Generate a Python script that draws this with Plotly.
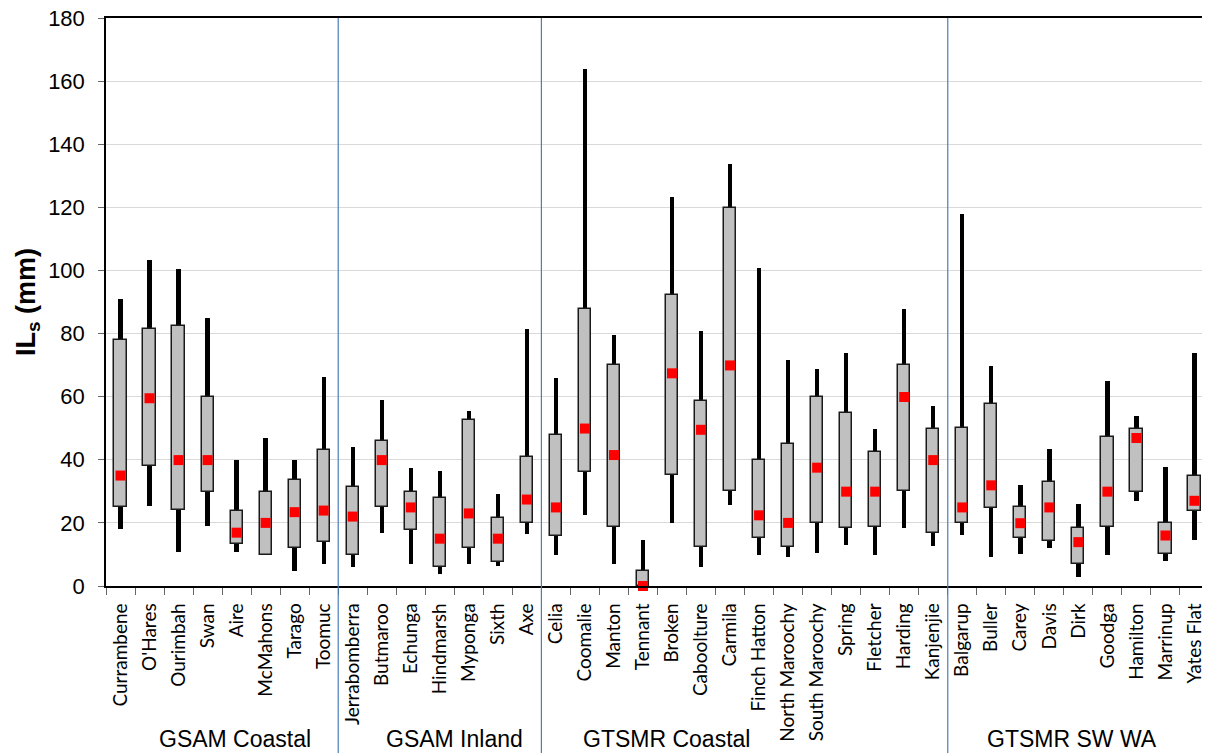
import plotly.graph_objects as go

# ---- data ----
sites = ["Currambene", "O'Hares", "Ourimbah", "Swan", "Aire", "McMahons", "Tarago", "Toomuc",
         "Jerrabomberra", "Butmaroo", "Echunga", "Hindmarsh", "Myponga", "Sixth", "Axe",
         "Celia", "Coomalie", "Manton", "Tennant", "Broken", "Caboolture", "Carmila",
         "Finch Hatton", "North Maroochy", "South Maroochy", "Spring", "Fletcher", "Harding", "Kanjenjie",
         "Balgarup", "Buller", "Carey", "Davis", "Dirk", "Goodga", "Hamilton", "Marrinup", "Yates Flat"]

groups = ["GSAM Coastal", "GSAM Inland", "GTSMR Coastal", "GTSMR SW WA"]
group_sizes = [8, 7, 14, 9]

whisker_max = [90.9, 103.4, 100.5, 84.9, 39.9, 46.8, 39.8, 66.3,
               43.9, 58.9, 37.4, 36.4, 55.5, 29.0, 81.5,
               65.8, 163.9, 79.7, 14.7, 123.4, 80.8, 133.8,
               100.8, 71.7, 68.8, 73.9, 49.7, 87.8, 57.2,
               117.8, 69.6, 32.1, 43.4, 25.9, 65.0, 53.8, 37.8, 73.9]
box_high = [77.9, 81.5, 82.4, 60.0, 23.9, 29.9, 33.7, 43.0,
            31.4, 45.9, 29.9, 27.9, 52.5, 21.6, 41.0,
            47.7, 87.8, 69.9, 4.8, 92.2, 58.6, 119.8,
            39.9, 44.9, 59.9, 54.8, 42.4, 69.9, 49.9,
            50.1, 57.7, 24.9, 33.1, 18.4, 47.3, 49.9, 19.9, 34.8]
median = [35.0, 59.5, 39.9, 39.9, 16.9, 20.0, 23.4, 23.9,
          22.0, 39.9, 24.9, 15.0, 23.0, 15.0, 27.4,
          24.9, 49.9, 41.5, 0.0, 67.4, 49.5, 69.9,
          22.4, 20.0, 37.5, 29.9, 29.9, 59.9, 39.9,
          24.9, 31.9, 19.9, 24.9, 13.9, 29.9, 46.9, 16.0, 27.0]
box_low = [24.9, 38.1, 24.0, 29.9, 13.4, 9.9, 11.9, 13.9,
           9.9, 24.9, 17.9, 5.9, 11.9, 7.5, 19.9,
           15.7, 36.2, 18.8, 0.0, 35.3, 12.5, 30.0,
           15.1, 12.3, 20.0, 18.4, 18.8, 30.0, 16.9,
           20.0, 24.6, 15.3, 14.4, 6.9, 18.8, 29.8, 10.2, 23.9]
whisker_min = [18.0, 25.5, 10.8, 18.9, 10.8, 9.9, 4.9, 7.0,
               5.9, 16.9, 7.0, 3.9, 7.0, 6.2, 16.4,
               9.9, 22.6, 7.0, 0.0, 20.0, 6.0, 25.6,
               9.9, 9.1, 10.4, 13.0, 9.9, 18.4, 12.7,
               16.1, 9.2, 10.1, 12.0, 2.9, 9.9, 26.8, 8.0, 14.7]

y_ticks = [0, 20, 40, 60, 80, 100, 120, 140, 160, 180]

fig = go.Figure()

fig.add_trace(go.Bar(
    x=sites, base=whisker_min,
    y=[hi - lo for hi, lo in zip(whisker_max, whisker_min)],
    width=0.15, marker=dict(color="black", line=dict(width=0)),
    showlegend=False, hoverinfo="skip"))

fig.add_trace(go.Bar(
    x=sites, base=box_low,
    y=[hi - lo for hi, lo in zip(box_high, box_low)],
    width=0.42, marker=dict(color="#c0c0c0", line=dict(color="#1a1a1a", width=1.5)),
    showlegend=False, hoverinfo="skip"))

fig.add_trace(go.Scatter(
    x=sites, y=median, mode="markers",
    marker=dict(symbol="square", size=10, color="#ff0000", line=dict(width=0)),
    cliponaxis=False, showlegend=False))

# group separators
n = len(sites)
shapes = []
cum = 0
for s in group_sizes[:-1]:
    cum += s
    shapes.append(dict(type="line", xref="paper", yref="paper",
                       x0=cum / n, x1=cum / n, y0=1, y1=-0.3,
                       line=dict(color="#4a7ebb", width=1.2)))

group_x = [0.117, 0.3164, 0.5086, 0.8758]
annotations = [dict(text=g, x=gx, y=-0.269, xref="paper", yref="paper",
                    xanchor="center", yanchor="middle", showarrow=False,
                    font=dict(family="Liberation Sans, Arial", size=23, color="black"))
               for g, gx in zip(groups, group_x)]

# page body has an 8px margin, so figure is offset by 8px
fig.update_layout(
    width=1202, height=745,
    margin=dict(l=98, r=1, t=10, b=167),
    paper_bgcolor="white", plot_bgcolor="white",
    barmode="overlay", bargap=0,
    shapes=shapes, annotations=annotations,
    showlegend=False,
)

fig.update_xaxes(
    type="category", range=[-0.5, n - 0.5],
    tickangle=-90, tickfont=dict(family="Lato, Carlito, Calibri", size=19, color="black"),
    ticklabelstandoff=8, ticklabeloverflow="allow",
    showline=True, linecolor="black", linewidth=1.5, mirror=True,
    ticks="outside", tickson="boundaries", ticklen=7, tickcolor="#666666",
    showgrid=False, automargin=False,
)

fig.update_yaxes(
    range=[0, 180], tickvals=y_ticks,
    tickfont=dict(family="Liberation Sans, Arial", size=22, color="black"),
    ticklabelstandoff=9, ticklabeloverflow="allow",
    showline=True, linecolor="black", linewidth=1.5, mirror=True,
    ticks="outside", ticklen=6, tickcolor="#666666",
    showgrid=True, gridcolor="#d9d9d9", gridwidth=1, zeroline=False,
    title=dict(text="<b>IL<sub>s</sub> (mm)</b>", standoff=5,
               font=dict(family="Liberation Sans, Arial", size=27, color="black")),
    automargin=False,
)

fig.write_html("out.html")
